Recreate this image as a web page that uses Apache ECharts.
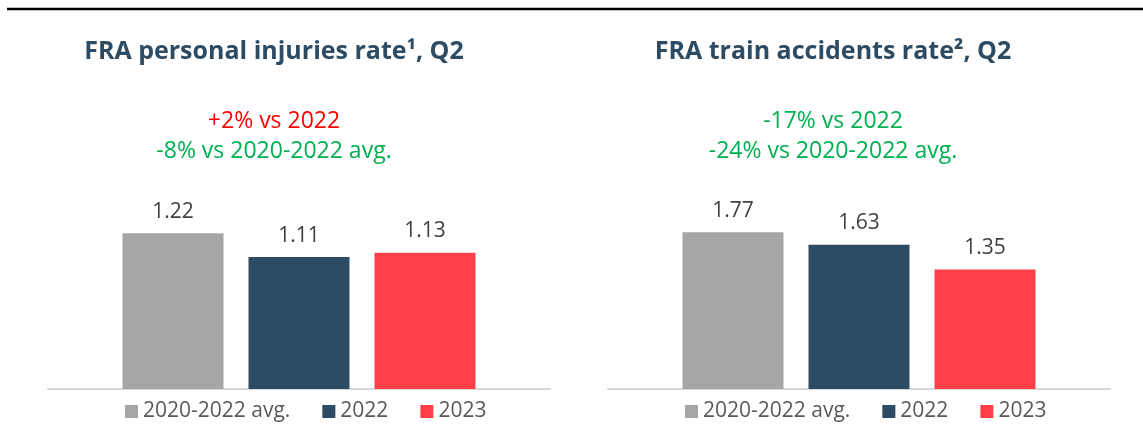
<!DOCTYPE html>
<html>
<head>
<meta charset="utf-8">
<script src="https://cdn.jsdelivr.net/npm/echarts@6/dist/echarts.min.js"></script>
<style>
html,body{margin:0;padding:0;background:#fff;}
#c{width:1143px;height:441px;}
</style>
</head>
<body>
<div id="c"></div>
<script>
// ---- data ----
const seriesNames = ['2020-2022 avg.', '2022', '2023'];
const injuriesValues = [1.22, 1.11, 1.13];
const accidentsValues = [1.77, 1.63, 1.35];
const titles = ['FRA personal injuries rate\u00B9, Q2', 'FRA train accidents rate\u00B2, Q2'];
const injuriesNotes = ['+2% vs 2022', '-8% vs 2020-2022 avg.'];
const accidentsNotes = ['-17% vs 2022', '-24% vs 2020-2022 avg.'];
const category = ['Q2'];

// ---- styles ----
const colors = ['#A6A6A6', '#2D4B62', '#FF4049'];
const FONT = '"Open Sans", Lato, sans-serif';
const chart = echarts.init(document.getElementById('c'), null, {renderer: 'canvas'});

function makeSeries(values, idx) {
  return seriesNames.map((n, i) => ({
    name: n,
    type: 'bar',
    xAxisIndex: idx,
    yAxisIndex: idx,
    data: [values[i]],
    barWidth: 101,
    barGap: '24.75%',
    itemStyle: {color: colors[i]},
    label: {
      show: true, position: 'top', distance: 11,
      formatter: p => p.value.toFixed(2),
      color: '#404040', fontSize: 21, fontFamily: FONT
    },
    emphasis: {disabled: true},
    animation: false
  }));
}

const titleColor = '#2D4B62';
function txt(x, y, text, size, color, weight) {
  return {type: 'text', x: x, y: y, style: {
    text: text, fill: color, font: (weight || 'normal') + ' ' + size + 'px ' + FONT,
    textAlign: 'center', textVerticalAlign: 'middle'
  }};
}

chart.setOption({
  animation: false,
  grid: [
    {left: 48, width: 502, top: 216, bottom: 52},
    {left: 608, width: 502, top: 212, bottom: 52}
  ],
  xAxis: [0, 1].map(i => ({
    type: 'category', gridIndex: i, data: category,
    axisLine: {show: true, lineStyle: {color: '#D9D9D9', width: 2}},
    axisTick: {show: false}, axisLabel: {show: false}
  })),
  yAxis: [
    {type: 'value', gridIndex: 0, min: 0.5, max: 1.3, show: false, splitLine: {show: false}},
    {type: 'value', gridIndex: 1, min: 0, max: 2, show: false, splitLine: {show: false}}
  ],
  legend: [120, 680].map(l => ({
    left: l, top: 396, itemWidth: 13, itemHeight: 13, itemGap: 32,
    icon: 'rect', selectedMode: false, data: seriesNames,
    textStyle: {color: '#595959', fontSize: 21, fontFamily: FONT}
  })),
  graphic: [
    {type: 'line', shape: {x1: 7, y1: 9, x2: 1143, y2: 9}, style: {stroke: '#000', lineWidth: 2.5}},
    txt(274, 52, titles[0], 25, titleColor, 'bold'),
    txt(833, 52, titles[1], 25, titleColor, 'bold'),
    txt(274, 121, injuriesNotes[0], 23, '#FF0000'),
    txt(274, 151, injuriesNotes[1], 23, '#00B050'),
    txt(833, 121, accidentsNotes[0], 23, '#00B050'),
    txt(833, 151, accidentsNotes[1], 23, '#00B050')
  ],
  series: makeSeries(injuriesValues, 0).concat(makeSeries(accidentsValues, 1))
});
</script>
</body>
</html>
